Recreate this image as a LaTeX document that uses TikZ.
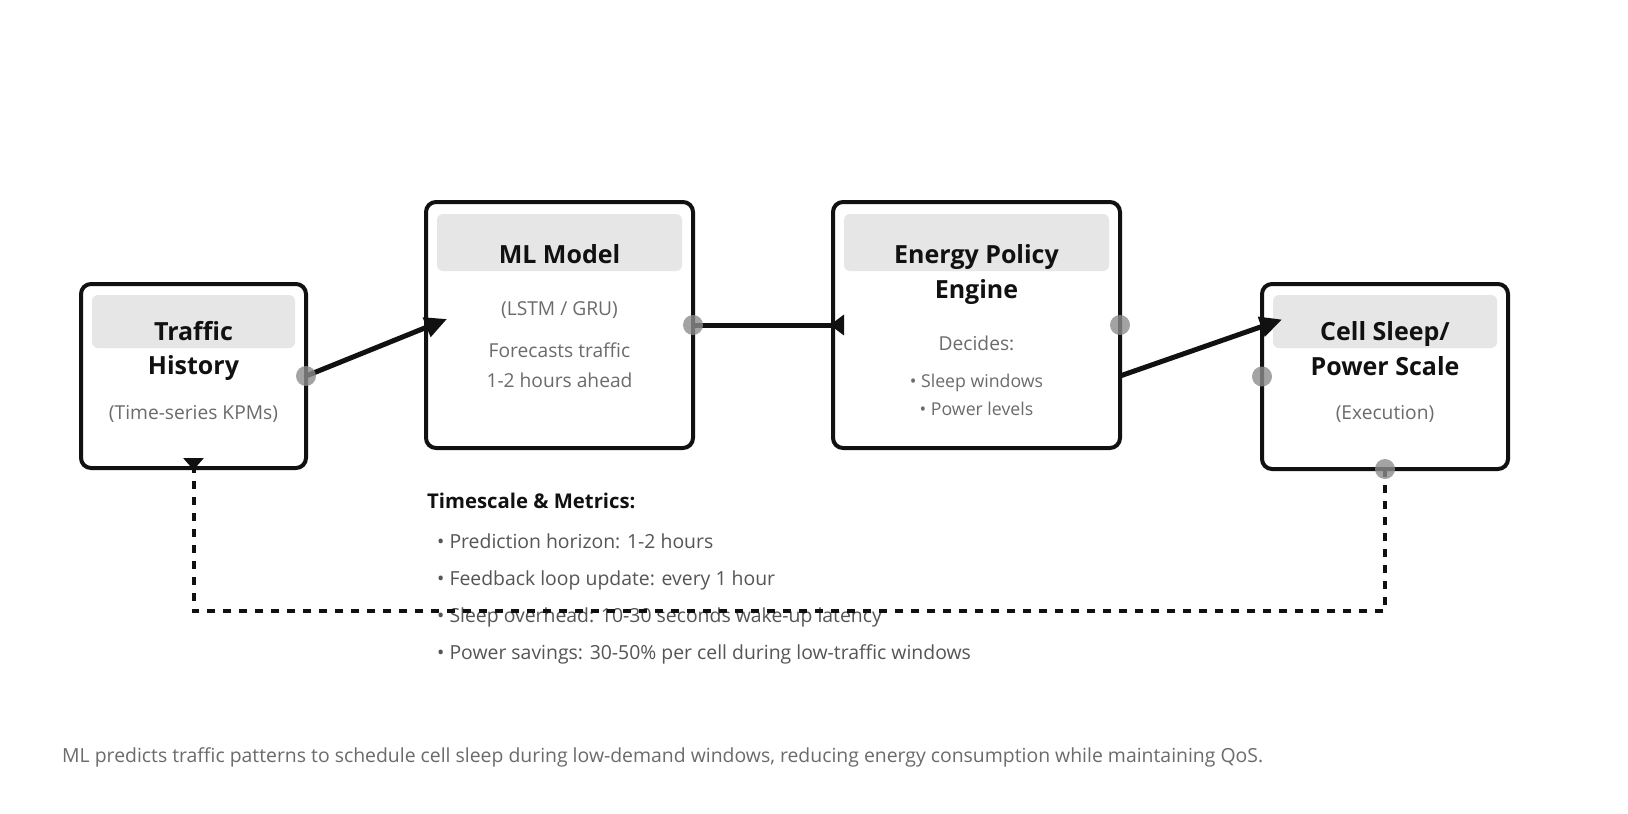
\documentclass[tikz,border=0pt]{standalone}
\usepackage{fontspec}
\setmainfont{Open Sans}
\usetikzlibrary{positioning,calc,arrows.meta}
\definecolor{ink}{HTML}{111111}
\definecolor{subgray}{HTML}{6B6B6B}
\definecolor{listgray}{HTML}{555555}
\definecolor{headfill}{HTML}{E6E6E6}
\definecolor{portgray}{HTML}{8C8C8C}
\tikzset{
    block/.style={draw=ink, line width=4pt, rounded corners=10pt, fill=white, outer sep=0pt, inner sep=0pt},
    head/.style={fill=headfill, rounded corners=6pt},
    headtxt/.style={anchor=base, inner sep=0pt, text=ink, font=\fontsize{25}{30}\selectfont\bfseries},
    subtxt/.style={anchor=base, inner sep=0pt, text=subgray, font=\fontsize{19.2}{23}\selectfont},
    pointtxt/.style={anchor=base, inner sep=0pt, text=subgray, font=\fontsize{17.7}{21}\selectfont},
    listhead/.style={anchor=base west, inner sep=0pt, text=ink, font=\fontsize{20.3}{24}\selectfont\bfseries},
    listtxt/.style={anchor=base west, inner sep=0pt, text=listgray, font=\fontsize{19.4}{23}\selectfont},
    port/.style={fill=portgray, fill opacity=0.8},
    flow/.style={draw=ink, line width=5pt},
    feedback/.style={draw=ink, line width=4pt, dash pattern=on 8pt off 8pt},
    tip/.style={-{Triangle[length=22pt,width=20pt]}},
    backtip/.style={-{Triangle[reversed,length=#1,width=20pt]}},
}
\begin{document}
\begin{tikzpicture}[x=1pt,y=-1pt]
        \fill[white] (0,0) rectangle (1628,814);
        \useasboundingbox (0,0) rectangle (1628,814);

        \node[block, minimum width=225pt, minimum height=184pt] (hist) at (193.5,376) {};
        \node[block, minimum width=267pt, minimum height=246pt] (ml) at (559.5,325) {};
        \node[block, minimum width=287pt, minimum height=246pt, right=140pt of ml] (pol) {};
        \node[block, minimum width=246pt, minimum height=185pt] (cell) at (1385,376.5) {};

        \foreach \b/\t/\h in {hist/11/64, ml/12/69, pol/12/69, cell/11/64}
            \fill[head] ($(\b.north west)+(11,\t)$) rectangle ($(\b.north east)+(-11,\h)$);

        \node[headtxt] (hist-a) at ($(hist.north)+(0,56)$) {Traffic};
        \node[headtxt] (hist-b) at ($(hist.north)+(0,90)$) {History};
        \node[subtxt] (hist-c) at ($(hist.north)+(0,135)$) {(Time-series KPMs)};

        \node[headtxt] (ml-a) at ($(ml.north)+(0,61)$) {ML Model};
        \node[subtxt] (ml-b) at ($(ml.north)+(0,113)$) {(LSTM / GRU)};
        \node[subtxt] (ml-c) at ($(ml.north)+(0,155)$) {Forecasts traffic};
        \node[subtxt] (ml-d) at ($(ml.north)+(0,185)$) {1-2 hours ahead};

        \node[headtxt] (pol-a) at ($(pol.north)+(0,61)$) {Energy Policy};
        \node[headtxt] (pol-b) at ($(pol.north)+(0,96)$) {Engine};
        \node[subtxt] (pol-c) at ($(pol.north)+(0,148)$) {Decides:};
        \node[pointtxt] (pol-d) at ($(pol.north)+(0,185)$) {• Sleep windows};
        \node[pointtxt] (pol-e) at ($(pol.north)+(0,213)$) {• Power levels};

        \node[headtxt] (cell-a) at ($(cell.north)+(0,56)$) {Cell Sleep/};
        \node[headtxt] (cell-b) at ($(cell.north)+(0,91)$) {Power Scale};
        \node[subtxt] (cell-c) at ($(cell.north)+(0,135)$) {(Execution)};

        \node[listhead] (ts) at (427,508) {Timescale \& Metrics:};
        \foreach \t [count=\i] in {Prediction horizon: 1-2 hours, Feedback loop update: every 1 hour,
                Sleep overhead: 10-30 seconds wake-up latency, Power savings: 30-50\% per cell during low-traffic windows}
            \node[listtxt] (ts-\i) at ($(ts.base west)+(10,3+37*\i)$) {• \t};

        \node[listtxt, text=subgray] (note) at (62,762) {ML predicts traffic patterns to schedule cell sleep during low-demand windows, reducing energy consumption while maintaining QoS.};

        \draw[flow, tip] (hist.east) -- ($(ml.west)+(21,-6)$);
        \draw[flow, backtip=14pt] (ml.east) -- ($(pol.west)+(11,0)$);
        \draw[flow, tip] ($(pol.east)+(0,51)$) -- ($(cell.west)+(20,-57)$);
        \draw[feedback, backtip=12pt] (cell.south) -- ++(0,142) -| ($(hist.south)+(0,-10)$);

        \foreach \p in {hist.east, ml.east, pol.east, cell.west, cell.south}
            \fill[port] (\p) circle (10pt);
    \end{tikzpicture}
\end{document}
